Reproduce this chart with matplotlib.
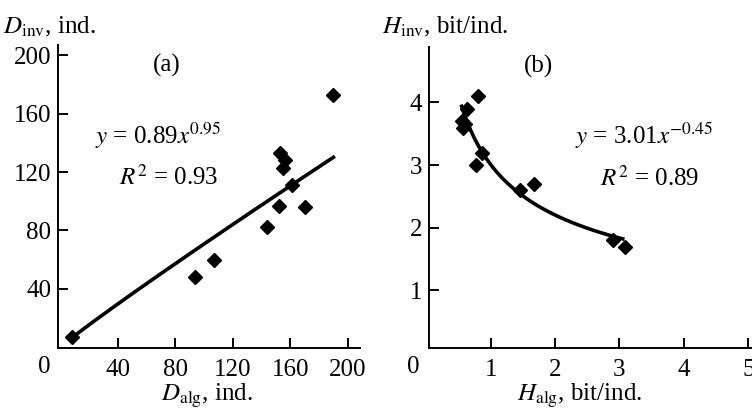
import numpy as np
import matplotlib
matplotlib.use('Agg')
import matplotlib.pyplot as plt

plt.rcParams['font.family'] = ['Liberation Serif', 'DejaVu Serif']
plt.rcParams['mathtext.fontset'] = 'stix'
plt.rcParams['font.size'] = 18

# panel (a): density
d_alg = [8, 94, 107, 144, 152, 153, 156, 155, 161, 170, 190]
d_inv = [7, 48, 60, 82, 97, 133, 128, 123, 111, 96, 173]
fit_a = (0.89, 0.95)
fit_a_range = (8, 190)

# panel (b): diversity
h_alg = [0.55, 0.57, 0.63, 0.60, 0.81, 0.78, 0.87, 1.46, 1.68, 2.90, 3.09]
h_inv = [3.70, 3.60, 3.90, 3.65, 4.10, 3.00, 3.20, 2.60, 2.70, 1.80, 1.70]
fit_b = (3.01, -0.45)
fit_b_range = (0.55, 3.05)

a_ticks = [40, 80, 120, 160, 200]
b_xticks = [1, 2, 3, 4, 5]
b_yticks = [1, 2, 3, 4]

fig = plt.figure(figsize=(7.52, 4.12), dpi=100)
ax1 = fig.add_axes([0.0771, 0.1553, 0.4016, 0.7354])
ax2 = fig.add_axes([0.5709, 0.1553, 0.4291, 0.7313])


def style(ax):
    for s in ['top', 'right']:
        ax.spines[s].set_visible(False)
    for s in ['left', 'bottom']:
        ax.spines[s].set_linewidth(1.4)
    ax.tick_params(direction='in', length=7, width=1.4)
    ax.tick_params(axis='x', pad=8)
    ax.tick_params(axis='y', pad=5)


# (a)
ax1.plot(d_alg, d_inv, 'kD', ms=7.5, zorder=3)
xs = np.linspace(*fit_a_range, 100)
ax1.plot(xs, fit_a[0] * xs ** fit_a[1], 'k-', lw=2.6)
ax1.set_xlim(-1.7, 208.5)
ax1.set_ylim(-0.6, 207)
ax1.set_xticks(a_ticks)
ax1.set_yticks(a_ticks)
style(ax1)
ax1.text(-11, -6, '0', ha='center', va='top')
ax1.text(74, 193, '(a)', ha='center', va='center')
ax1.text(24, 145, r'$y$ = 0.89$x^{0.95}$', ha='left', va='center')
ax1.text(41, 116, r'$R^2$ = 0.93', ha='left', va='center')
fig.text(0.004, 0.935, r'$D_{\rm inv}$, ind.', ha='left', va='center')
fig.text(0.275, 0.04, r'$D_{\rm alg}$, ind.', ha='center', va='center')

# (b)
ax2.plot(h_alg, h_inv, 'kD', ms=7.5, zorder=3)
xs = np.linspace(*fit_b_range, 100)
ax2.plot(xs, fit_b[0] * xs ** fit_b[1], 'k-', lw=2.6)
ax2.set_xlim(0.048, 5.057)
ax2.set_ylim(0.08, 4.89)
ax2.set_xticks(b_xticks)
ax2.set_yticks(b_yticks)
style(ax2)
ax2.text(-0.2, -0.05, '0', ha='center', va='top')
ax2.text(1.74, 4.57, '(b)', ha='center', va='center')
ax2.text(2.31, 3.46, r'$y$ = 3.01$x^{-0.45}$', ha='left', va='center')
ax2.text(2.70, 2.79, r'$R^2$ = 0.89', ha='left', va='center')
fig.text(0.508, 0.935, r'$H_{\rm inv}$, bit/ind.', ha='left', va='center')
fig.text(0.771, 0.04, r'$H_{\rm alg}$, bit/ind.', ha='center', va='center')

fig.savefig('out.png', dpi=100)
